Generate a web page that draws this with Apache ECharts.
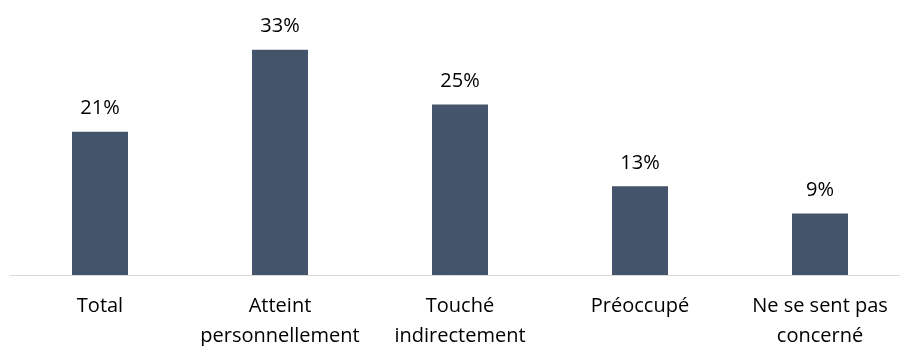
<!DOCTYPE html>
<html>
<head>
<meta charset="utf-8">
<script src="https://cdn.jsdelivr.net/npm/echarts@6/dist/echarts.min.js"></script>
<style>
  html, body { margin: 0; padding: 0; background: #fff; }
  #chart { width: 900px; height: 346px; }
</style>
</head>
<body>
<div id="chart"></div>
<script>
// categories and values (percent)
var categories = ["Total", "Atteint\npersonnellement", "Touché\nindirectement", "Préoccupé", "Ne se sent pas\nconcerné"];
var values = [21, 33, 25, 13, 9];

var myChart = echarts.init(document.getElementById("chart"));
myChart.setOption({
  animation: false,
  grid: { left: 10, width: 900, top: 2, bottom: 71, outerBoundsMode: "none", containLabel: false },
  xAxis: {
    type: "category",
    data: categories,
    axisTick: { show: false },
    axisLine: { lineStyle: { color: "#d9d9d9", width: 1 } },
    axisLabel: {
      interval: 0,
      color: "#000",
      fontFamily: "Open Sans",
      fontSize: 20,
      lineHeight: 30,
      margin: 16
    }
  },
  yAxis: {
    type: "value",
    min: 0,
    max: 40,
    show: false,
    splitLine: { show: false }
  },
  series: [
    {
      type: "bar",
      data: values,
      barWidth: 56,
      itemStyle: { color: "#44546a" },
      label: {
        show: true,
        position: "top",
        distance: 13,
        color: "#000",
        fontFamily: "Open Sans",
        fontSize: 20,
        formatter: "{c}%"
      }
    }
  ]
});
</script>
</body>
</html>
